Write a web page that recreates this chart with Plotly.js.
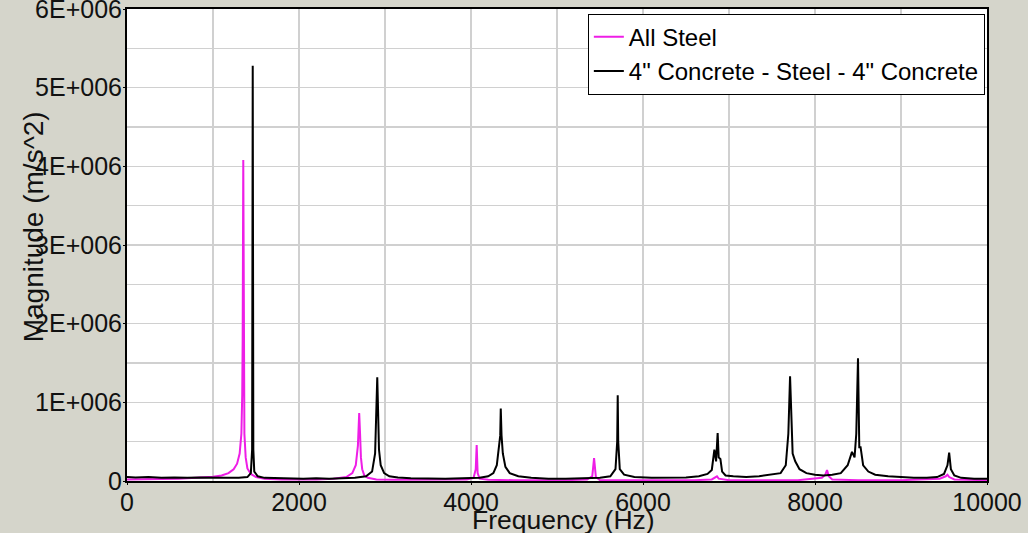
<!DOCTYPE html>
<html>
<head>
<meta charset="utf-8">
<script src="https://cdn.plot.ly/plotly-3.0.1.min.js"></script>
<style>
  html, body { margin: 0; padding: 0; background: #d5d5cb; }
  #chart { width: 1028px; height: 533px; }
</style>
</head>
<body>
<div id="chart"></div>
<script>
// All Steel (magenta) spectrum
const steelFreq = [0, 200, 400, 600, 800, 1000, 1100, 1180, 1240, 1280, 1310, 1330, 1340, 1345, 1352, 1358, 1365, 1380, 1400, 1440, 1500, 1600, 1800, 2000, 2200, 2400, 2550, 2620, 2660, 2685, 2700, 2710, 2720, 2735, 2760, 2800, 2900, 3100, 3400, 3700, 3950, 4030, 4055, 4066, 4077, 4100, 4200, 4500, 4800, 5100, 5350, 5410, 5431, 5452, 5500, 5800, 6200, 6600, 6800, 6840, 6860, 6880, 7000, 7400, 7800, 8080, 8120, 8140, 8160, 8200, 8500, 9000, 9450, 9520, 9540, 9560, 9620, 10000];
const steelMag = [0.02e6, 0.02e6, 0.025e6, 0.03e6, 0.04e6, 0.055e6, 0.07e6, 0.1e6, 0.15e6, 0.22e6, 0.35e6, 0.6e6, 1.1e6, 1.8e6, 4.08e6, 1.2e6, 0.6e6, 0.3e6, 0.16e6, 0.09e6, 0.05e6, 0.03e6, 0.02e6, 0.02e6, 0.02e6, 0.03e6, 0.05e6, 0.1e6, 0.2e6, 0.45e6, 0.865e6, 0.6e6, 0.3e6, 0.15e6, 0.07e6, 0.04e6, 0.02e6, 0.015e6, 0.015e6, 0.015e6, 0.02e6, 0.04e6, 0.15e6, 0.458e6, 0.1e6, 0.03e6, 0.015e6, 0.01e6, 0.01e6, 0.01e6, 0.02e6, 0.06e6, 0.29e6, 0.05e6, 0.01e6, 0.01e6, 0.01e6, 0.01e6, 0.02e6, 0.05e6, 0.06e6, 0.03e6, 0.01e6, 0.01e6, 0.01e6, 0.04e6, 0.08e6, 0.14e6, 0.06e6, 0.02e6, 0.01e6, 0.01e6, 0.03e6, 0.06e6, 0.08e6, 0.05e6, 0.02e6, 0.01e6];

// 4" Concrete - Steel - 4" Concrete (black) spectrum
const concFreq = [0, 100, 250, 400, 550, 700, 850, 1000, 1150, 1300, 1400, 1440, 1455, 1462, 1469, 1480, 1520, 1600, 1750, 1900, 2050, 2200, 2350, 2500, 2650, 2780, 2850, 2885, 2900, 2910, 2920, 2930, 2950, 2990, 3050, 3150, 3300, 3500, 3700, 3900, 4100, 4200, 4260, 4300, 4325, 4340, 4346, 4355, 4370, 4400, 4450, 4550, 4700, 4900, 5100, 5300, 5500, 5620, 5680, 5700, 5706, 5712, 5730, 5780, 5900, 6100, 6300, 6500, 6650, 6750, 6800, 6830, 6850, 6868, 6880, 6900, 6920, 6960, 7050, 7200, 7350, 7500, 7600, 7660, 7690, 7710, 7720, 7740, 7770, 7820, 7900, 8000, 8100, 8200, 8300, 8380, 8430, 8460, 8480, 8500, 8515, 8530, 8560, 8620, 8700, 8850, 9000, 9150, 9300, 9420, 9500, 9540, 9560, 9580, 9620, 9700, 9850, 10000];
const concMag = [0.05e6, 0.045e6, 0.05e6, 0.04e6, 0.045e6, 0.04e6, 0.045e6, 0.04e6, 0.04e6, 0.04e6, 0.05e6, 0.1e6, 0.4e6, 5.28e6, 0.4e6, 0.12e6, 0.06e6, 0.04e6, 0.035e6, 0.03e6, 0.03e6, 0.035e6, 0.03e6, 0.035e6, 0.04e6, 0.06e6, 0.12e6, 0.35e6, 0.87e6, 1.32e6, 0.87e6, 0.4e6, 0.2e6, 0.1e6, 0.06e6, 0.045e6, 0.035e6, 0.03e6, 0.03e6, 0.035e6, 0.04e6, 0.06e6, 0.1e6, 0.2e6, 0.4e6, 0.58e6, 0.92e6, 0.58e6, 0.35e6, 0.18e6, 0.1e6, 0.06e6, 0.04e6, 0.03e6, 0.03e6, 0.035e6, 0.04e6, 0.06e6, 0.15e6, 0.5e6, 1.09e6, 0.5e6, 0.15e6, 0.08e6, 0.05e6, 0.04e6, 0.04e6, 0.045e6, 0.06e6, 0.09e6, 0.14e6, 0.4e6, 0.25e6, 0.61e6, 0.3e6, 0.28e6, 0.12e6, 0.07e6, 0.06e6, 0.05e6, 0.06e6, 0.08e6, 0.1e6, 0.2e6, 0.6e6, 1.33e6, 0.9e6, 0.35e6, 0.25e6, 0.15e6, 0.1e6, 0.08e6, 0.07e6, 0.08e6, 0.1e6, 0.2e6, 0.37e6, 0.3e6, 0.6e6, 1.56e6, 0.43e6, 0.43e6, 0.2e6, 0.12e6, 0.08e6, 0.06e6, 0.05e6, 0.04e6, 0.04e6, 0.05e6, 0.09e6, 0.2e6, 0.36e6, 0.15e6, 0.07e6, 0.04e6, 0.03e6, 0.03e6];

const seriesNames = ['All Steel', '4" Concrete - Steel - 4" Concrete'];
const xTickVals = [0, 2000, 4000, 6000, 8000, 10000];
const xTickText = ['0', '2000', '4000', '6000', '8000', '10000'];
const yTickVals = [0, 1e6, 2e6, 3e6, 4e6, 5e6, 6e6];
const yTickText = ['0', '1E+006', '2E+006', '3E+006', '4E+006', '5E+006', '6E+006'];

const FONT = 'Liberation Sans, Arial, sans-serif';

const traces = [
  { x: steelFreq, y: steelMag, name: seriesNames[0], type: 'scatter', mode: 'lines',
    line: { color: '#ee1ee6', width: 2 } },
  { x: concFreq, y: concMag, name: seriesNames[1], type: 'scatter', mode: 'lines',
    line: { color: '#000000', width: 2 } }
];

const layout = {
  width: 1028, height: 533,
  paper_bgcolor: '#d5d5cb',
  plot_bgcolor: '#ffffff',
  margin: { l: 127, r: 41, t: 9, b: 52 },
  font: { family: FONT, color: '#111111', size: 25 },
  showlegend: true,
  legend: {
    x: 0.9975, y: 0.99, xanchor: 'right', yanchor: 'top',
    bgcolor: '#ffffff', bordercolor: '#000000', borderwidth: 1,
    font: { family: FONT, size: 24, color: '#000000' },
    tracegroupgap: 0, itemwidth: 30
  },
  xaxis: {
    range: [0, 10000.01], tickvals: xTickVals, ticktext: xTickText,
    showgrid: true, gridcolor: '#d0d0d0', gridwidth: 1.5,
    minor: { dtick: 1000, showgrid: true, gridcolor: '#d0d0d0', gridwidth: 1.5 },
    showline: true, linecolor: '#000000', linewidth: 2, mirror: true,
    ticks: 'outside', ticklen: 2, tickcolor: '#000000',
    ticklabelstandoff: -4, ticklabeloverflow: 'allow',
    zeroline: false,
    tickfont: { family: FONT, size: 25, color: '#111111' }
  },
  yaxis: {
    range: [0, 6.0005e6], tickvals: yTickVals, ticktext: yTickText,
    showgrid: true, gridcolor: '#d0d0d0', gridwidth: 1.5,
    minor: { dtick: 0.5e6, showgrid: true, gridcolor: '#d0d0d0', gridwidth: 1.5 },
    showline: true, linecolor: '#000000', linewidth: 2, mirror: true,
    ticks: 'outside', ticklen: 2, tickcolor: '#000000',
    ticklabelstandoff: -4, ticklabeloverflow: 'allow',
    zeroline: false,
    tickfont: { family: FONT, size: 25, color: '#111111' }
  },
  annotations: [
    { text: 'Magnitude (m/s^2)', xref: 'paper', yref: 'paper', x: -0.109, y: 0.538,
      xanchor: 'center', yanchor: 'middle', textangle: -90, showarrow: false,
      font: { family: FONT, size: 28, color: '#111111' } },
    { text: 'Frequency (Hz)', xref: 'paper', yref: 'paper', x: 0.507, y: -0.082,
      xanchor: 'center', yanchor: 'middle', showarrow: false,
      font: { family: FONT, size: 26.5, color: '#111111' } }
  ]
};

Plotly.newPlot('chart', traces, layout, { displayModeBar: false, staticPlot: true });
</script>
</body>
</html>
